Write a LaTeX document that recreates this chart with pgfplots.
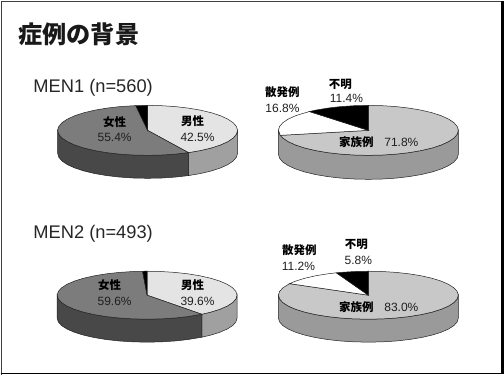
\documentclass[border=0pt]{standalone}
\usepackage{pgfplots}
\pgfplotsset{compat=1.18}
\usepackage{pgfplotstable}
\usepackage{fontspec}
\setmainfont{Liberation Sans}
\newfontfamily\cjk{Noto Sans CJK JP}

% Pie slices: c = cumulative percent clockwise from the top,
% r = 0 at the centre and 1 on the rim.
\pgfplotstableread[row sep=\\]{c r\\0 0\\0 1\\2.5 1\\5 1\\7.5 1\\10 1\\12.5 1\\15 1\\17.5 1\\20 1\\22.5 1\\25 1\\27.5 1\\30 1\\32.5 1\\35 1\\37.5 1\\40 1\\42.5 1\\}\menIm
\pgfplotstableread[row sep=\\]{c r\\42.5 0\\42.5 1\\45 1\\47.5 1\\50 1\\52.5 1\\55 1\\57.5 1\\60 1\\62.5 1\\65 1\\67.5 1\\70 1\\72.5 1\\75 1\\77.5 1\\80 1\\82.5 1\\85 1\\87.5 1\\90 1\\92.5 1\\95 1\\97.9 1\\}\menIf
\pgfplotstableread[row sep=\\]{c r\\97.9 0\\97.9 1\\100 1\\}\menIu
\pgfplotstableread[row sep=\\]{c r\\0 0\\0 1\\2.5 1\\5 1\\7.5 1\\10 1\\12.5 1\\15 1\\17.5 1\\20 1\\22.5 1\\25 1\\27.5 1\\30 1\\32.5 1\\35 1\\37.5 1\\39.6 1\\}\menIIm
\pgfplotstableread[row sep=\\]{c r\\39.6 0\\39.6 1\\42.5 1\\45 1\\47.5 1\\50 1\\52.5 1\\55 1\\57.5 1\\60 1\\62.5 1\\65 1\\67.5 1\\70 1\\72.5 1\\75 1\\77.5 1\\80 1\\82.5 1\\85 1\\87.5 1\\90 1\\92.5 1\\95 1\\97.5 1\\99.2 1\\}\menIIf
\pgfplotstableread[row sep=\\]{c r\\99.2 0\\99.2 1\\100 1\\}\menIIu
\pgfplotstableread[row sep=\\]{c r\\0 0\\0 1\\2.5 1\\5 1\\7.5 1\\10 1\\12.5 1\\15 1\\17.5 1\\20 1\\22.5 1\\25 1\\27.5 1\\30 1\\32.5 1\\35 1\\37.5 1\\40 1\\42.5 1\\45 1\\47.5 1\\50 1\\52.5 1\\55 1\\57.5 1\\60 1\\62.5 1\\65 1\\67.5 1\\70 1\\71.8 1\\}\menIfam
\pgfplotstableread[row sep=\\]{c r\\71.8 0\\71.8 1\\75 1\\77.5 1\\80 1\\82.5 1\\85 1\\88.6 1\\}\menIspo
\pgfplotstableread[row sep=\\]{c r\\88.6 0\\88.6 1\\90 1\\92.5 1\\95 1\\97.5 1\\100 1\\}\menIunk
\pgfplotstableread[row sep=\\]{c r\\0 0\\0 1\\2.5 1\\5 1\\7.5 1\\10 1\\12.5 1\\15 1\\17.5 1\\20 1\\22.5 1\\25 1\\27.5 1\\30 1\\32.5 1\\35 1\\37.5 1\\40 1\\42.5 1\\45 1\\47.5 1\\50 1\\52.5 1\\55 1\\57.5 1\\60 1\\62.5 1\\65 1\\67.5 1\\70 1\\72.5 1\\75 1\\77.5 1\\80 1\\83 1\\}\menIIfam
\pgfplotstableread[row sep=\\]{c r\\83 0\\83 1\\85 1\\87.5 1\\90 1\\92.5 1\\94.2 1\\}\menIIspo
\pgfplotstableread[row sep=\\]{c r\\94.2 0\\94.2 1\\95 1\\97.5 1\\100 1\\}\menIIunk

% Side walls: d = 0 on the upper rim and 1 on the lower rim.
\pgfplotstableread[row sep=\\]{c d\\25 0\\27.5 0\\30 0\\32.5 0\\35 0\\37.5 0\\40 0\\42.5 0\\42.5 1\\40 1\\37.5 1\\35 1\\32.5 1\\30 1\\27.5 1\\25 1\\}\wallIm
\pgfplotstableread[row sep=\\]{c d\\42.5 0\\45 0\\47.5 0\\50 0\\52.5 0\\55 0\\57.5 0\\60 0\\62.5 0\\65 0\\67.5 0\\70 0\\72.5 0\\75 0\\75 1\\72.5 1\\70 1\\67.5 1\\65 1\\62.5 1\\60 1\\57.5 1\\55 1\\52.5 1\\50 1\\47.5 1\\45 1\\42.5 1\\}\wallIf
\pgfplotstableread[row sep=\\]{c d\\25 0\\27.5 0\\30 0\\32.5 0\\35 0\\37.5 0\\39.6 0\\39.6 1\\37.5 1\\35 1\\32.5 1\\30 1\\27.5 1\\25 1\\}\wallIIm
\pgfplotstableread[row sep=\\]{c d\\39.6 0\\42.5 0\\45 0\\47.5 0\\50 0\\52.5 0\\55 0\\57.5 0\\60 0\\62.5 0\\65 0\\67.5 0\\70 0\\72.5 0\\75 0\\75 1\\72.5 1\\70 1\\67.5 1\\65 1\\62.5 1\\60 1\\57.5 1\\55 1\\52.5 1\\50 1\\47.5 1\\45 1\\42.5 1\\39.6 1\\}\wallIIf
\pgfplotstableread[row sep=\\]{c d\\25 0\\27.5 0\\30 0\\32.5 0\\35 0\\37.5 0\\40 0\\42.5 0\\45 0\\47.5 0\\50 0\\52.5 0\\55 0\\57.5 0\\60 0\\62.5 0\\65 0\\67.5 0\\70 0\\72.5 0\\75 0\\75 1\\72.5 1\\70 1\\67.5 1\\65 1\\62.5 1\\60 1\\57.5 1\\55 1\\52.5 1\\50 1\\47.5 1\\45 1\\42.5 1\\40 1\\37.5 1\\35 1\\32.5 1\\30 1\\27.5 1\\25 1\\}\wallFam

\definecolor{femtop}{HTML}{7C7C7C}
\definecolor{femwall}{HTML}{484848}
\definecolor{maletop}{HTML}{E4E4E4}
\definecolor{malewall}{HTML}{A0A0A0}
\definecolor{famtop}{HTML}{C8C8C8}
\definecolor{famwall}{HTML}{9A9A9A}
\definecolor{edge}{HTML}{222222}

% #1 centre x, #2 centre y, #3 half height, #4 table, #5 fill
\newcommand{\sector}[5]{\addplot[draw=edge,line width=0.5pt,fill=#5] table[
    x expr={#1+90*\thisrow{r}*sin(3.6*\thisrow{c})},
    y expr={#2-#3*\thisrow{r}*cos(3.6*\thisrow{c})}] {#4} -- cycle;}
% #1 centre x, #2 centre y, #3 half height, #4 depth, #5 table, #6 fill
\newcommand{\wall}[6]{\addplot[draw=edge,line width=0.5pt,fill=#6] table[
    x expr={#1+90*sin(3.6*\thisrow{c})},
    y expr={#2-#3*cos(3.6*\thisrow{c})+#4*\thisrow{d}}] {#5} -- cycle;}
\newcommand{\jp}[3]{\node[font=\cjk\bfseries\fontsize{11.5}{12}\selectfont,text=black] at (axis cs:#1,#2) {#3};}
\newcommand{\pc}[3]{\node[font=\fontsize{12}{13}\selectfont,text=black!88] at (axis cs:#1,#2) {#3};}

\begin{document}
\begin{tikzpicture}
\begin{axis}[
    width=504pt,height=376pt,scale only axis,
    xmin=0,xmax=504,ymin=0,ymax=376,y dir=reverse,
    hide axis,clip=false]

% slide frame
\addplot[black!75,line width=1.5pt] coordinates {(1,376) (1,2) (503,2)};
\addplot[black,line width=3pt] coordinates {(502,2) (502,374.5)};
\addplot[black,line width=1.5pt] coordinates {(0,374.5) (503,374.5)};

% MEN1, sex
\wall{147}{131}{25}{23}{\wallIm}{malewall}
\wall{147}{131}{25}{23}{\wallIf}{femwall}
\sector{147}{131}{25}{\menIm}{maletop}
\sector{147}{131}{25}{\menIf}{femtop}
\sector{147}{131}{25}{\menIu}{black}

% MEN1, family history
\wall{368}{131}{25}{24}{\wallFam}{famwall}
\sector{368}{131}{25}{\menIfam}{famtop}
\sector{368}{131}{25}{\menIspo}{white}
\sector{368}{131}{25}{\menIunk}{black}

% MEN2, sex
\wall{146.5}{296}{24}{23}{\wallIIm}{malewall}
\wall{146.5}{296}{24}{23}{\wallIIf}{femwall}
\sector{146.5}{296}{24}{\menIIm}{maletop}
\sector{146.5}{296}{24}{\menIIf}{femtop}
\sector{146.5}{296}{24}{\menIIu}{black}

% MEN2, family history
\wall{368}{296}{24}{23}{\wallFam}{famwall}
\sector{368}{296}{24}{\menIIfam}{famtop}
\sector{368}{296}{24}{\menIIspo}{white}
\sector{368}{296}{24}{\menIIunk}{black}

% headings
\node[anchor=west,inner sep=0pt,font=\cjk\bfseries\fontsize{24.2}{26}\selectfont,text=black!90] at (axis cs:17.5,35) {症例の背景};
\node[anchor=west,inner sep=0pt,font=\fontsize{18.3}{20}\selectfont,text=black!85] at (axis cs:32.5,88) {MEN1 (n=560)};
\node[anchor=west,inner sep=0pt,font=\fontsize{18.3}{20}\selectfont,text=black!85] at (axis cs:32.5,235) {MEN2 (n=493)};

% slice labels
\jp{114}{123}{女性}  \pc{114}{138}{55.4\%}
\jp{192}{122}{男性}  \pc{197}{138}{42.5\%}
\jp{282}{93}{散発例} \pc{282}{109}{16.8\%}
\jp{340}{85}{不明}   \pc{346}{99}{11.4\%}
\jp{356}{143}{家族例} \pc{401}{143}{71.8\%}

\jp{109}{286}{女性}  \pc{114}{302}{59.6\%}
\jp{192}{286}{男性}  \pc{197}{302}{39.6\%}
\jp{299}{251}{散発例} \pc{298}{267}{11.2\%}
\jp{356}{245}{不明}   \pc{358}{261}{5.8\%}
\jp{356}{308}{家族例} \pc{401}{308}{83.0\%}
\end{axis}
\end{tikzpicture}
\end{document}
